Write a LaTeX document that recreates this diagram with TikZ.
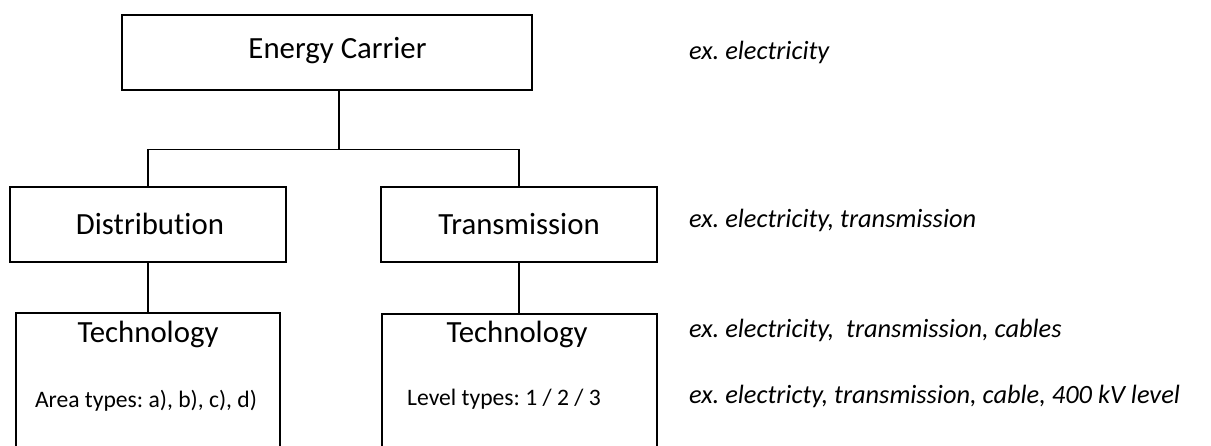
\documentclass[tikz,border=0pt]{standalone}
\usepackage{fontspec}
\setmainfont{Carlito}[Ligatures=NoCommon]
\frenchspacing
\begin{document}
\begin{tikzpicture}[x=1pt,y=-1pt,
  box/.style={draw=black,line width=1.3pt,rectangle,inner sep=0pt,fill=white},
  conn/.style={draw=black,line width=1.3pt},
  thickconn/.style={draw=black,line width=2.2pt},
  big/.style={font=\fontsize{30.8}{36}\selectfont,inner sep=0pt},
  small/.style={font=\fontsize{23.6}{28}\selectfont,inner sep=0pt},
  note/.style={font=\fontsize{26.4}{30}\selectfont\itshape,inner sep=0pt,anchor=base west}]
\useasboundingbox (0,0) rectangle (1211,446);
\clip (0,0) rectangle (1211,446);
\fill[white] (0,0) rectangle (1211,446);
% boxes
\node[box,minimum width=410pt,minimum height=75pt] (E) at (327,52.5) {};
\node[box,minimum width=276pt,minimum height=75pt] (D) at (148,224.5) {};
\node[box,minimum width=276pt,minimum height=75pt] (T) at (519,224.5) {};
\node[box,minimum width=264pt,minimum height=180pt] (TL) at (148,403) {};
\node[box,minimum width=275pt,minimum height=180pt] (TR) at (519.5,404) {};
% connectors
\coordinate (bar) at (339,149.5);
\draw[conn] (E.south -| bar) -- (bar);
\draw[conn] (D.north) |- (bar) -| (T.north);
\draw[thickconn] (D.south) -- (TL.north);
\draw[thickconn] (T.south) -- (T.south |- TR.north);
% texts
\node[big,anchor=base] (tE) at (337.5,59) {Energy Carrier};
\node[big,anchor=base] (tD) at (150,235) {Distribution};
\node[big,anchor=base] (tT) at (519,235) {Transmission};
\node[big,anchor=base] (tTL) at (148,343) {Technology};
\node[big,anchor=base] (tTR) at (517,343) {Technology};
\node[small,anchor=base] (aTL) at (146,408) {Area types: a), b), c), d)};
\node[small,anchor=base west] (aTR) at (407,406) {Level types: 1 / 2 / 3};
% notes
\node[note] (n1) at (689,60) {ex. electricity};
\node[note] (n2) at (689,228) {ex. electricity, transmission};
\node[note] (n3) at (689,338) {ex. electricity,\ \ transmission, cables};
\node[note] (n4) at (689,403) {ex. electricty, transmission, cable, 400 kV level};
\end{tikzpicture}
\end{document}
